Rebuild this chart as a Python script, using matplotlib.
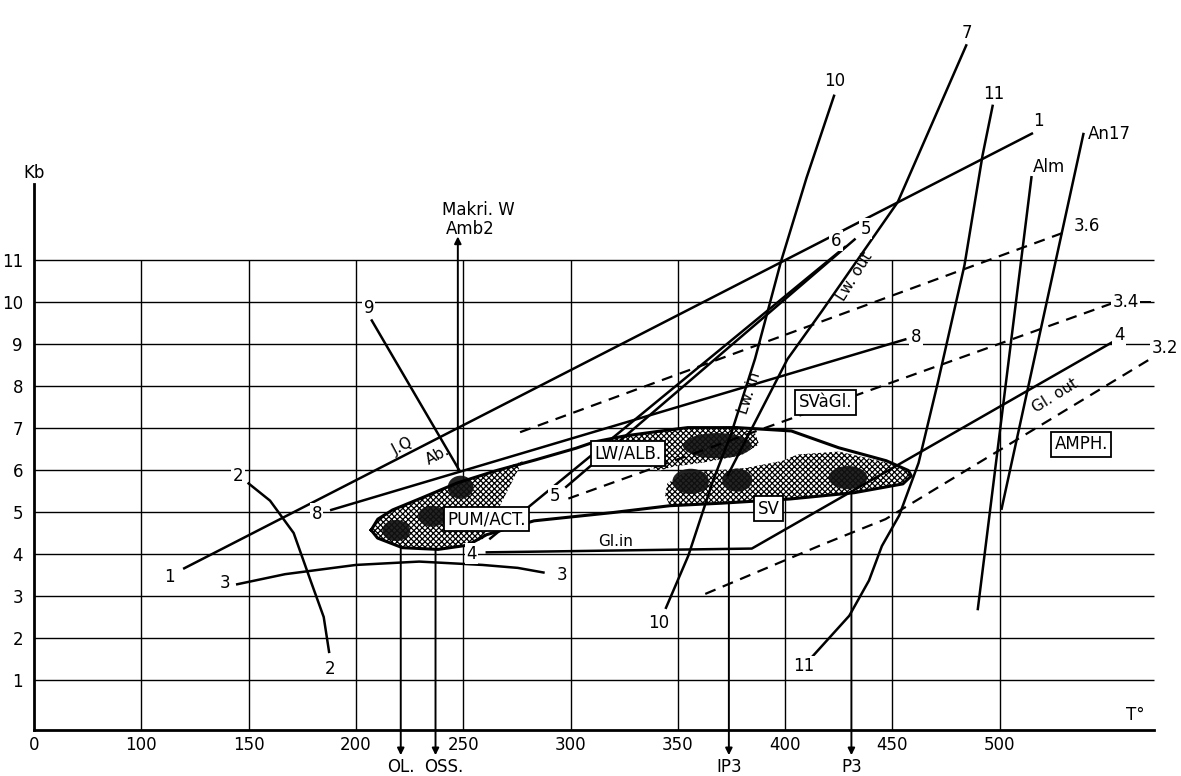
import numpy as np
import matplotlib.pyplot as plt
from matplotlib.patches import Ellipse

plt.rcParams['font.family'] = ['Liberation Sans Narrow', 'DejaVu Sans']
plt.rcParams['hatch.linewidth'] = 0.9

# axis ticks (the 0-100 step is drawn as wide as one 50 step)
t_ticks = [0, 100, 150, 200, 250, 300, 350, 400, 450, 500]
kb_ticks = list(range(1, 12))

# reaction lines (T, Kb)
line1_t, line1_kb = [120, 515], [3.65, 14.0]
curve2_t = [150, 160, 171, 179, 185, 187.5]
curve2_kb = [5.67, 5.26, 4.49, 3.34, 2.49, 1.66]
curve3_t = [144.7, 167, 200, 229.5, 259, 275.4, 287.4]
curve3_kb = [3.27, 3.51, 3.73, 3.81, 3.73, 3.66, 3.55]
line4_t, line4_kb = [261, 384.5, 552], [4.03, 4.12, 9.02]
line5_t, line5_kb = [298, 432.4], [5.59, 11.48]
line6_t, line6_kb = [262.6, 427.9], [4.36, 11.3]
line7_t = [484.4, 452.5, 417.1, 401.1, 373.3]
line7_kb = [16.1, 12.37, 9.77, 8.63, 5.87]
line8_t, line8_kb = [188.5, 456], [5.04, 9.1]
line9_t, line9_kb = [207.4, 248], [9.55, 6.0]
line10_t = [344.5, 354.9, 366.5, 374.7, 386, 398, 410, 422.8]
line10_kb = [2.71, 3.95, 5.75, 6.83, 8.64, 10.94, 12.95, 14.9]
line11_t = [412.2, 429.9, 439.1, 445.1, 453.2, 462.2, 471.3, 483.6, 492, 496.7]
line11_kb = [1.52, 2.52, 3.36, 4.18, 4.91, 6.16, 8.1, 10.87, 13.48, 14.66]
alm_t, alm_kb = [514.8, 489.8], [12.96, 2.68]
an17_t, an17_kb = [539, 500.9], [13.99, 5.07]

# dashed isopleths
d36_t, d36_kb = [276.5, 530.7], [6.89, 11.66]
d34_t, d34_kb = [299, 551.9], [5.31, 9.95]
d32_t, d32_kb = [362.8, 417.1, 446.8, 576.5], [3.04, 4.21, 4.82, 8.83]

# outer envelope
env_t = [207.1, 210.2, 217.1, 230.4, 247.1, 265.7, 283.6, 302.6, 311.2, 325.1,
         342.3, 354.6, 377.4, 402.9, 425.0, 447.2, 457.4, 458.8,
         454.9, 432.2, 402.2, 370.3, 346.3, 320.2, 283, 260.9, 252, 238.3,
         221.7, 210.1, 207.1]
env_kb = [4.56, 4.82, 5.04, 5.32, 5.68, 5.98, 6.23, 6.51, 6.66, 6.8,
          6.92, 7.0, 7.0, 6.92, 6.52, 6.21, 5.98, 5.85,
          5.66, 5.45, 5.3, 5.2, 5.14, 4.98, 4.78, 4.45, 4.2, 4.1,
          4.14, 4.37, 4.56]

# hatched fields
pum_t = [207.1, 210.2, 217.1, 230.4, 247.1, 265.7, 277.7, 259.2, 252, 238.3, 221.7, 210.1]
pum_kb = [4.56, 4.82, 5.04, 5.32, 5.68, 5.98, 6.2, 4.35, 4.2, 4.1, 4.14, 4.37]
lw_t = [313.5, 334.3, 354.6, 377.4, 386.1, 387.9, 379.6, 362.2, 347.9, 341, 334.1, 325, 315.7]
lw_kb = [6.7, 6.88, 7.0, 7.03, 6.86, 6.6, 6.34, 6.17, 6.07, 5.97, 6.15, 6.38, 6.52]
sv_t = [345.1, 352.7, 381.8, 398.8, 405.8, 425, 447.2, 457.4, 458.8, 454.9,
        432.2, 402.2, 370.3, 346.3, 344.1]
sv_kb = [5.67, 5.92, 6.04, 6.21, 6.36, 6.43, 6.17, 5.98, 5.85, 5.66,
         5.45, 5.3, 5.2, 5.14, 5.38]

# dark spots (T, Kb, width in T, height in Kb)
spots = [(218.8, 4.55, 13, 0.5), (235.5, 4.89, 13, 0.5), (248.8, 5.58, 12, 0.55),
         (368.4, 6.57, 32, 0.6), (356, 5.72, 17, 0.6), (377.7, 5.75, 14, 0.55),
         (429.3, 5.81, 18, 0.55)]

# sample arrows (T, from Kb, label, label T)
arrows_down = [(220.9, 4.14, 'OL.', 220.9), (237.1, 4.1, 'OSS.', 241.1),
               (373.8, 5.2, 'IP3', 373.8), (430.9, 5.45, 'P3', 430.9)]

# text labels (text, T, Kb)
num_labels = [('1', 113, 3.45), ('1', 518, 14.3), ('2', 145, 5.85), ('2', 188, 1.25),
              ('3', 139, 3.3), ('3', 296, 3.5), ('4', 254, 4.0), ('4', 555.6, 9.2),
              ('5', 292.8, 5.38), ('5', 437.6, 11.74), ('6', 423.7, 11.45),
              ('7', 484.6, 16.4), ('8', 181.7, 4.95), ('8', 461, 9.15), ('9', 206, 9.85),
              ('10', 341, 2.35), ('10', 423, 15.25), ('11', 408.6, 1.32), ('11', 497, 14.95),
              ('3.6', 540.6, 11.8), ('3.4', 558.7, 10.0), ('3.2', 577, 8.9)]
boxes = [('PUM/ACT.', 260.9, 4.82), ('LW/ALB.', 326.9, 6.38), ('SVàGl.', 418.8, 7.6),
         ('SV', 392.2, 5.07), ('AMPH.', 538, 6.6)]


def fwd(t):
    t = np.asarray(t, dtype=float)
    return np.where(t <= 100, t / 100.0, 1 + (t - 100) / 50.0)


def inv(u):
    u = np.asarray(u, dtype=float)
    return np.where(u <= 1, u * 100.0, 100 + (u - 1) * 50.0)


fig = plt.figure(figsize=(11.81, 7.76), dpi=100)
ax = fig.add_axes([0, 0, 1, 1])
ax.set_xscale('function', functions=(fwd, inv))
ax.set_xlim(float(inv(-34 / 107.3)), float(inv((1181 - 34) / 107.3)))
ax.set_ylim(-0.2 - 46 / 42, -0.2 + 730 / 42)

# grid
ax.hlines(kb_ticks, 0, 572, color='black', lw=1.0)
ax.vlines(t_ticks[1:], -0.2, 11, color='black', lw=1.0)

# axes
for s in ['top', 'right']:
    ax.spines[s].set_visible(False)
ax.spines['left'].set_position(('data', 0))
ax.spines['left'].set_bounds(-0.2, 12.8)
ax.spines['bottom'].set_position(('data', -0.2))
ax.spines['bottom'].set_bounds(0, 572)
ax.spines['left'].set_linewidth(2)
ax.spines['bottom'].set_linewidth(2)
ax.set_xticks(t_ticks)
ax.set_xticklabels([str(t) for t in t_ticks])
ax.set_yticks(kb_ticks)
ax.set_yticklabels([str(k) for k in kb_ticks])
ax.tick_params(axis='x', length=0, pad=4, labelsize=12)
ax.tick_params(axis='y', length=0, pad=8, labelsize=12)
ax.text(0, 13.05, 'Kb', ha='center', va='center', fontsize=12)
ax.text(563, 0.15, 'T°', ha='center', va='center', fontsize=12)

# hatched fields
for ft, fk in [(pum_t, pum_kb), (lw_t, lw_kb), (sv_t, sv_kb)]:
    ax.fill(ft, fk, facecolor='white', edgecolor='black', lw=0, hatch='xxxxxx', zorder=2)
for t, k, w, h in spots:
    ax.add_patch(Ellipse((t, k), w, h, facecolor='#111111', edgecolor='#111111',
                         lw=0, alpha=0.92, zorder=3))
ax.plot(env_t, env_kb, color='black', lw=2.2, zorder=4)

# reaction lines
solid = [(line1_t, line1_kb), (curve2_t, curve2_kb), (curve3_t, curve3_kb),
         (line4_t, line4_kb), (line5_t, line5_kb), (line6_t, line6_kb),
         (line7_t, line7_kb), (line8_t, line8_kb), (line9_t, line9_kb),
         (line10_t, line10_kb), (line11_t, line11_kb), (alm_t, alm_kb),
         (an17_t, an17_kb)]
for t, k in solid:
    ax.plot(t, k, color='black', lw=1.8, zorder=4)
for t, k in [(d36_t, d36_kb), (d34_t, d34_kb), (d32_t, d32_kb)]:
    ax.plot(t, k, color='black', lw=1.6, ls=(0, (5, 3.5)), zorder=4)
ax.plot([563.5, 570], [10.0, 10.0], color='black', lw=1.4)

# arrows
for t, k0, lab, lt in arrows_down:
    ax.annotate('', xy=(t, -0.8), xytext=(t, k0),
                arrowprops=dict(arrowstyle='-|>', lw=1.4, color='black',
                                mutation_scale=10, shrinkA=0, shrinkB=0))
    ax.text(lt, -1.08, lab, ha='center', va='center', fontsize=12)
ax.annotate('', xy=(247.5, 11.55), xytext=(247.5, 6.0),
            arrowprops=dict(arrowstyle='-|>', lw=1.4, color='black',
                            mutation_scale=10, shrinkA=0, shrinkB=0))
ax.text(257.2, 12.18, 'Makri. W', ha='center', va='center', fontsize=12)
ax.text(253.2, 11.73, 'Amb2', ha='center', va='center', fontsize=12)

# labels (white backing breaks the lines they sit on, as in the drawing)
for txt, t, k in num_labels:
    ax.text(t, k, txt, ha='center', va='center', fontsize=12, zorder=6,
            bbox=dict(boxstyle='square,pad=0.08', facecolor='white', edgecolor='none'))
ax.text(541, 14.0, 'An17', ha='left', va='center', fontsize=12)
ax.text(515.4, 13.2, 'Alm', ha='left', va='center', fontsize=12)
ax.text(222, 6.55, 'J.Q', ha='center', va='center', fontsize=11, rotation=28)
ax.text(238, 6.35, 'Ab.', ha='center', va='center', fontsize=11, rotation=28)
ax.text(432.6, 10.6, 'Lw. out', ha='center', va='center', fontsize=11, rotation=58)
ax.text(383.5, 7.83, 'Lw. in', ha='center', va='center', fontsize=11, rotation=72)
ax.text(321, 4.3, 'Gl.in', ha='center', va='center', fontsize=11)
ax.text(526, 7.77, 'Gl. out', ha='center', va='center', fontsize=11, rotation=32)
for txt, t, k in boxes:
    ax.text(t, k, txt, ha='center', va='center', fontsize=12, zorder=7,
            bbox=dict(boxstyle='square,pad=0.2', facecolor='white',
                      edgecolor='black', lw=1.3))

fig.savefig('out.png', dpi=100)
